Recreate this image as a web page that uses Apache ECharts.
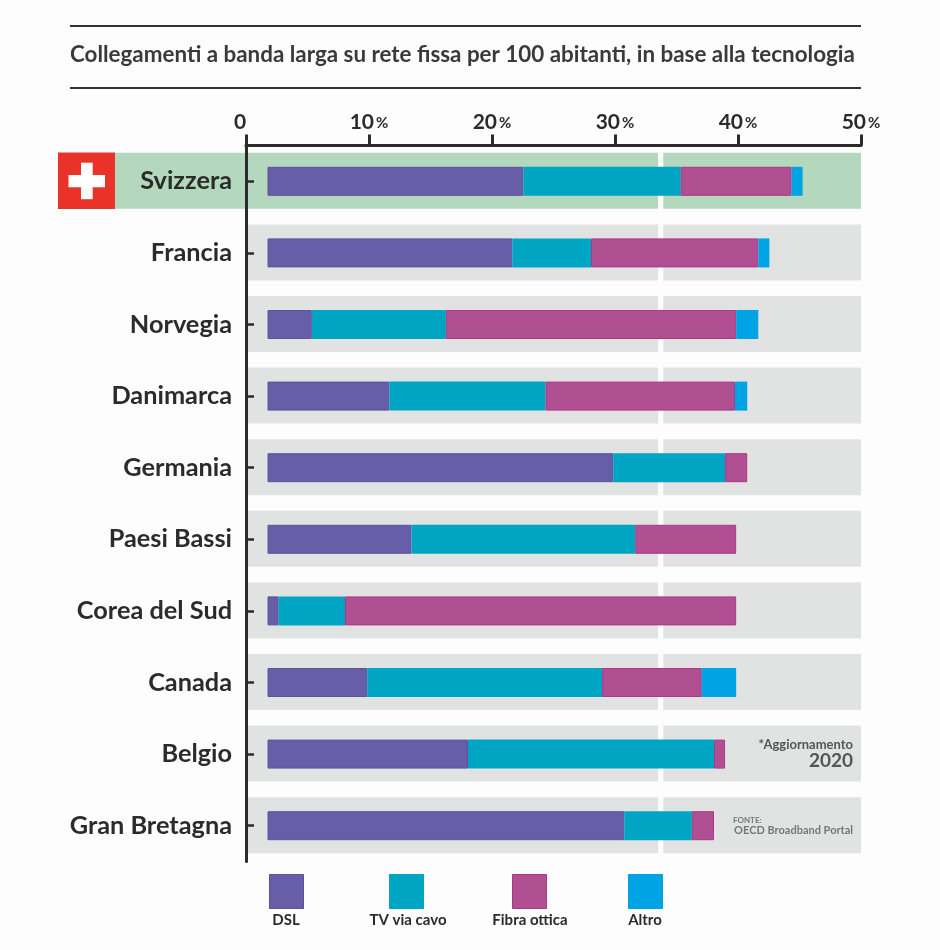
<!DOCTYPE html>
<html lang="it">
<head>
<meta charset="utf-8">
<title>Banda larga su rete fissa</title>
<script src="https://cdn.jsdelivr.net/npm/echarts@6/dist/echarts.min.js"></script>
<style>
  html, body { margin: 0; padding: 0; background: #fdfdfe; }
  #chart { width: 940px; height: 950px; }
</style>
</head>
<body>
<div id="chart"></div>
<script>
// Collegamenti per 100 abitanti, per paese e tecnologia
const titleText = 'Collegamenti a banda larga su rete fissa per 100 abitanti, in base alla tecnologia';
const countries = ['Svizzera', 'Francia', 'Norvegia', 'Danimarca', 'Germania', 'Paesi Bassi', 'Corea del Sud', 'Canada', 'Belgio', 'Gran Bretagna'];
const dsl      = [20.8, 19.9,  3.6,  9.9, 28.1, 11.7,  0.9,  8.1, 16.3, 29.0];
const cable    = [12.8,  6.4, 10.9, 12.7,  9.1, 18.2,  5.4, 19.1, 20.0,  5.5];
const fibre    = [ 9.0, 13.6, 23.6, 15.4,  1.8,  8.2, 31.8,  8.1,  0.9,  1.8];
const other    = [ 0.9,  0.9,  1.8,  1.0,  0.0,  0.0,  0.0,  2.8,  0.0,  0.0];

// The bars sit slightly clear of the zero line
const barStart = 1.75;

// Row backgrounds run the whole scale with a thin break in the last third
const rowBreakFrom = 33.5;
const rowBreakSize = 0.43;

const INK = '#2b2b2b';
const FONT = 'Lato, "Noto Sans", sans-serif';
const colors = { dsl: '#675ea7', cable: '#00a5c3', fibre: '#b04f92', other: '#00a3e4' };
const ROW_GREY = '#e1e3e2';
const ROW_GREEN = '#b3d8bd';
const RED = '#e9332a';

const legendItems = [
  { name: 'DSL',          color: colors.dsl,   border: '#5f509f', box: 269, text: 286 },
  { name: 'TV via cavo',  color: colors.cable, border: colors.cable, box: 389, text: 408 },
  { name: 'Fibra ottica', color: colors.fibre, border: '#ae3688', box: 512, text: 530 },
  { name: 'Altro',        color: colors.other, border: colors.other, box: 628, text: 645 }
];

const rowFill = countries.map((c, i) => ({ itemStyle: { color: i === 0 ? ROW_GREEN : ROW_GREY } }));
const rowSeries = (name, value, fill) => ({
  name, type: 'bar', stack: 'row', xAxisIndex: 1, yAxisIndex: 1, barWidth: 56, z: 1, silent: true,
  data: countries.map((c, i) => fill
    ? { value, itemStyle: rowFill[i].itemStyle }
    : { value, itemStyle: { color: 'transparent' } })
});
const stackSeries = (name, data, color, border) => ({
  name, type: 'bar', stack: 'total', barWidth: 29, z: 3, silent: true, data,
  itemStyle: { color, borderColor: border || color, borderWidth: border ? 1 : 0 }
});

const legendGraphics = legendItems.flatMap(it => [
  { type: 'rect', left: it.box, top: 874, shape: { width: 34, height: 34 },
    style: { fill: it.color, stroke: it.border, lineWidth: 1 } },
  { type: 'text', x: it.text, y: 920,
    style: { text: it.name, fill: INK, font: '700 15px ' + FONT, align: 'center', verticalAlign: 'middle' } }
]);

const chart = echarts.init(document.getElementById('chart'), null, { renderer: 'canvas' });
chart.setOption({
  animation: false,
  backgroundColor: '#fdfdfe',
  title: {
    text: titleText, left: 65, top: 39,
    textStyle: { fontFamily: FONT, fontSize: 22.4, fontWeight: 700, color: '#3a3a3a' }
  },
  grid: [
    { left: 246, top: 145.5, width: 615, height: 716 },
    { left: 246, top: 145, width: 615, height: 716 }
  ],
  xAxis: [
    {
      gridIndex: 0, type: 'value', position: 'top', min: 0, max: 50, interval: 10, z: 5,
      splitLine: { show: false },
      axisLine: { show: true, lineStyle: { color: INK, width: 3 } },
      axisTick: { show: true, length: 11, lineStyle: { color: INK, width: 3 } },
      axisLabel: {
        margin: 13, interval: 0,
        formatter: v => v === 0 ? '{z|0}' : '{n|' + v + '}{p|%}',
        rich: {
          z: { fontFamily: FONT, fontSize: 21, fontWeight: 700, color: INK, padding: [0, 12, 0, 0] },
          n: { fontFamily: FONT, fontSize: 21, fontWeight: 700, color: INK },
          p: { fontFamily: FONT, fontSize: 15, fontWeight: 700, color: INK, padding: [2, 0, 0, 2] }
        }
      }
    },
    { gridIndex: 1, type: 'value', min: 0, max: 50, show: false }
  ],
  yAxis: [
    {
      gridIndex: 0, type: 'category', inverse: true, data: countries, z: 5,
      axisLine: { show: true, lineStyle: { color: INK, width: 3 } },
      axisTick: { show: true, inside: true, alignWithLabel: true, length: 8, lineStyle: { color: INK, width: 2.5 } },
      axisLabel: { margin: 14, interval: 0, fontFamily: FONT, fontSize: 25.3, fontWeight: 700, color: INK, padding: [2, 0, 0, 0] }
    },
    { gridIndex: 1, type: 'category', inverse: true, data: countries, show: false }
  ],
  series: [
    rowSeries('fascia', rowBreakFrom, true),
    rowSeries('stacco', rowBreakSize, false),
    rowSeries('coda', 50 - rowBreakFrom - rowBreakSize, true),
    { name: 'inizio', type: 'bar', stack: 'total', barWidth: 29, z: 3, silent: true,
      data: countries.map(() => barStart), itemStyle: { color: 'transparent' } },
    stackSeries('DSL', dsl, colors.dsl, '#5f509f'),
    stackSeries('TV via cavo', cable, colors.cable),
    stackSeries('Fibra ottica', fibre, colors.fibre, '#ae3688'),
    stackSeries('Altro', other, colors.other)
  ],
  graphic: [
    // Title rules
    { type: 'rect', left: 70, top: 25, shape: { width: 791, height: 2 }, style: { fill: '#333' } },
    { type: 'rect', left: 70, top: 87, shape: { width: 791, height: 2 }, style: { fill: '#333' } },
    // Swiss highlight: band continued to the left, with the flag
    { type: 'rect', left: 115, top: 152.7, z: 0, shape: { width: 132, height: 56 }, style: { fill: ROW_GREEN } },
    { type: 'rect', left: 58, top: 152.5, z: 1, shape: { width: 57, height: 56.5 }, style: { fill: RED } },
    { type: 'rect', left: 68.5, top: 175, z: 2, shape: { width: 36.5, height: 12.3 }, style: { fill: '#fff' } },
    { type: 'rect', left: 81, top: 162.7, z: 2, shape: { width: 11.7, height: 36.5 }, style: { fill: '#fff' } },
    // Notes in the last two rows
    { type: 'text', x: 853, y: 745, z: 6, style: { text: '*Aggiornamento', fill: '#555', font: '700 13px ' + FONT, align: 'right', verticalAlign: 'middle' } },
    { type: 'text', x: 853, y: 761, z: 6, style: { text: '2020', fill: '#555', font: '700 19px ' + FONT, align: 'right', verticalAlign: 'middle' } },
    { type: 'text', x: 733, y: 820, z: 6, style: { text: 'FONTE:', fill: '#777', font: '700 8px ' + FONT, align: 'left', verticalAlign: 'middle' } },
    { type: 'text', x: 853, y: 830, z: 6, style: { text: 'OECD Broadband Portal', fill: '#777', font: '700 11px ' + FONT, align: 'right', verticalAlign: 'middle' } },
    ...legendGraphics
  ]
});
</script>
</body>
</html>
